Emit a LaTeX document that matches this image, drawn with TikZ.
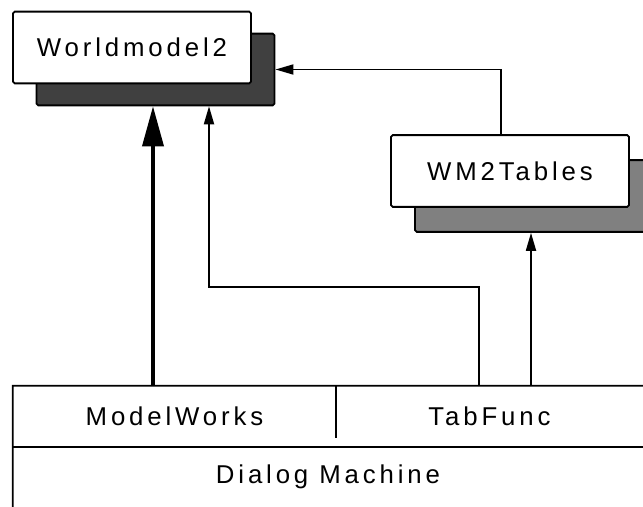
\documentclass[tikz,border=0pt]{standalone}
\usepackage{fontspec}
\newfontfamily\boxfont{Liberation Sans}[LetterSpace=15]
\usetikzlibrary{arrows.meta}
\definecolor{wmdark}{HTML}{404040}
\definecolor{tabgray}{HTML}{808080}
\begin{document}
\begin{tikzpicture}[x=0.03cm, y=-0.03cm,
	font=\boxfont\fontsize{22}{26}\selectfont,
	box/.style={draw, line width=1.6pt, fill=white, rounded corners=1.5pt,
		inner sep=0pt, minimum width=7.14cm, minimum height=2.15cm},
	shade/.style={box, fill=#1},
	cell/.style={inner sep=0pt},
	arr/.style={line width=1.5pt, -{Triangle[length=0.54cm, width=0.3cm]}},
	bigarr/.style={line width=3pt, -{Triangle[length=1.2cm, width=0.63cm]}}]
	\useasboundingbox (0,0) rectangle (643,507);
	\clip (0,0) rectangle (643,507);
	\node[shade=wmdark] (wmS) at (155.5,69.5) {};
	\node[box] (wm) at (132,47.5) {Worldmodel2};
	\node[shade=tabgray] (tabS) at (534,196) {};
	\node[box] (tab) at (510,171) {WM2Tables};
	\node[cell, minimum width=9.69cm, minimum height=1.83cm] (mw) at (174.5,416.5) {ModelWorks};
	\node[cell, minimum width=9.21cm, minimum height=1.83cm] (tf) at (489.5,416.5) {TabFunc};
	\node[cell, minimum width=18.9cm, minimum height=1.8cm] (dm) at (328,477) {Dialog Machine};
	\draw[line width=1.6pt] (dm.south west) -- (mw.north west) -- (tf.north east);
	\draw[line width=1.6pt] (mw.south west) -- (tf.south east);
	\draw[line width=1.6pt] (mw.north east) -- ++(0,52);
	\coordinate (mwout) at (153,386);
	\coordinate (tfout) at (479,386);
	\coordinate (tfup) at (531,386);
	\coordinate (bend) at (209,287);
	\coordinate (tbout) at (501,135);
	\draw[bigarr] (mwout) -- (mwout |- wmS.south);
	\draw[arr] (tfout) |- (bend) -- (bend |- wmS.south);
	\draw[arr] (tfup) -- (tfup |- tabS.south);
	\draw[arr] (tbout) |- (wmS.east);
\end{tikzpicture}
\end{document}
